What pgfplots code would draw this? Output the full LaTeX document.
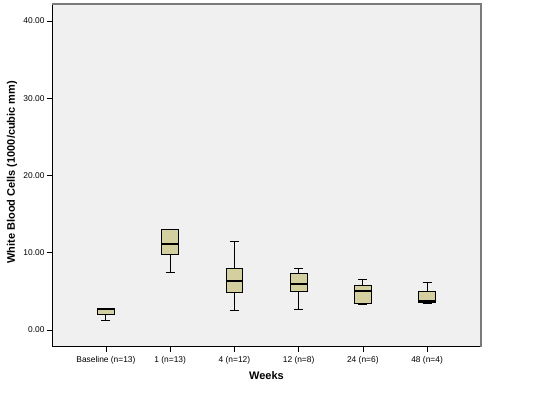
\documentclass[border=0pt]{standalone}
\usepackage{fontspec}
\setmainfont{Liberation Sans}
\usepackage{pgfplots}
\pgfplotsset{compat=1.18}
\usepgfplotslibrary{statistics}
\definecolor{boxcol}{RGB}{212,207,158}
\definecolor{bgcol}{RGB}{240,240,240}
\definecolor{bordgray}{RGB}{122,122,122}
\begin{document}
\begin{tikzpicture}
\useasboundingbox (-52pt,-49.5pt) rectangle (483pt,346.5pt);
\begin{axis}[
  scale only axis,
  width=429pt, height=342.5pt,
  at={(0pt,0pt)}, anchor=south west,
  xmin=-0.84, xmax=5.84,
  ymin=-2.14, ymax=42.2,
  axis x line*=bottom, axis y line*=left,
  axis line style={black, line width=0.8pt, -},
  axis background/.style={fill=bgcol},
  tick align=outside,
  major tick length=5pt,
  tick style={black, line width=0.6pt},
  xtick={0,1,2,3,4,5},
  xticklabels={Baseline (n=13), 1 (n=13), 4 (n=12), 12 (n=8), 24 (n=6), 48 (n=4)},
  ytick={0,10,20,30,40},
  /pgf/number format/assume math mode=true,
  yticklabel style={/pgf/number format/fixed, /pgf/number format/fixed zerofill, /pgf/number format/precision=2},
  ticklabel style={font=\fontsize{8.4}{10}\selectfont, text=black},
  xticklabel style={yshift=-1pt},
  yticklabel style={xshift=1pt},
  xlabel={Weeks},
  ylabel={White Blood Cells (1000/cubic mm)},
  label style={font=\fontsize{11}{13}\selectfont\bfseries},
  xlabel style={at={(axis description cs:0.5,0)}, anchor=center, yshift=-29.5pt},
  ylabel style={at={(axis description cs:0,0.5)}, anchor=center, yshift=40pt, xshift=3pt},
  boxplot/draw direction=y,
  boxplot/box extend=0.26,
  boxplot/whisker extend=0.14,
  boxplot/every median/.style={line width=1.8pt},
  clip=false,
]
\addplot[boxplot prepared={draw position=0, lower whisker=1.26, lower quartile=2.07, median=2.72, upper quartile=2.81, upper whisker=2.81}, draw=black, fill=boxcol, line width=0.9pt] coordinates {};
\addplot[boxplot prepared={draw position=1, lower whisker=7.42, lower quartile=9.80, median=11.18, upper quartile=12.95, upper whisker=12.95}, draw=black, fill=boxcol, line width=0.9pt] coordinates {};
\addplot[boxplot prepared={draw position=2, lower whisker=2.55, lower quartile=4.88, median=6.39, upper quartile=7.90, upper whisker=11.40}, draw=black, fill=boxcol, line width=0.9pt] coordinates {};
\addplot[boxplot prepared={draw position=3, lower whisker=2.72, lower quartile=5.01, median=5.92, upper quartile=7.34, upper whisker=7.94}, draw=black, fill=boxcol, line width=0.9pt] coordinates {};
\addplot[boxplot prepared={draw position=4, lower whisker=3.28, lower quartile=3.45, median=5.01, upper quartile=5.70, upper whisker=6.56}, draw=black, fill=boxcol, line width=0.9pt] coordinates {};
\addplot[boxplot prepared={draw position=5, lower whisker=3.37, lower quartile=3.54, median=3.76, upper quartile=5.01, upper whisker=6.18}, draw=black, fill=boxcol, line width=0.9pt] coordinates {};
\draw[bordgray, line width=1.6pt] (rel axis cs:0,1) -- (rel axis cs:1,1) -- (rel axis cs:1,0);
\end{axis}
\end{tikzpicture}
\end{document}
